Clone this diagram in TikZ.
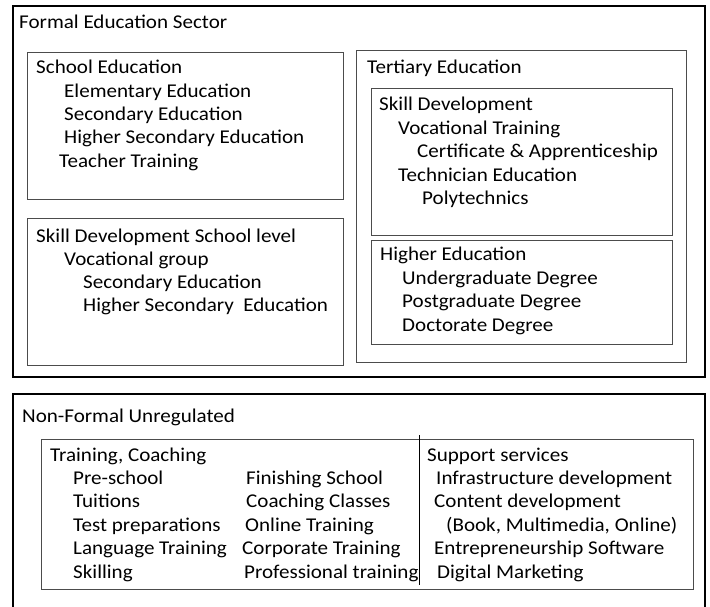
\documentclass[tikz,border=0pt]{standalone}
\usepackage{fontspec}
\setmainfont{Carlito}[FakeStretch=1.08]
\begin{document}
\begin{tikzpicture}[x=1pt,y=-1pt,
  txt/.style={anchor=base west, inner sep=0pt, font=\fontsize{19.5}{23}\selectfont},
  outerbox/.style={draw=black, line width=2.6pt},
  innerbox/.style={draw=black!70, line width=1pt}]
\useasboundingbox (0,0) rectangle (710,606);
\clip (0,0) rectangle (710,606);
\fill[white] (0,0) rectangle (710,606);

% ---------- Formal sector ----------
\draw[outerbox] (13,6) rectangle (705,377);
\draw[innerbox] (27,52) rectangle (343,199);
\draw[innerbox] (27,218) rectangle (343,365);
\draw[innerbox] (356,50) rectangle (686,362);
\draw[innerbox] (371,88) rectangle (672,235);
\draw[innerbox] (371,240) rectangle (672,344);

\node[txt] (fes) at (19,28) {Formal Education Sector};

\node[txt] (se)  at (36,73)  {School Education};
\node[txt] (se1) at (64,97)  {Elementary Education};
\node[txt] (se2) at (64,120) {Secondary Education};
\node[txt] (se3) at (64,143) {Higher Secondary Education};
\node[txt] (se4) at (59,167) {Teacher Training};

\node[txt] (sd)  at (36,242) {Skill Development School level};
\node[txt] (sd1) at (64,265) {Vocational group};
\node[txt] (sd2) at (83,288) {Secondary Education};
\node[txt] (sd3) at (83,311) {Higher Secondary\ \ Education};

\node[txt] (te)  at (367,73)  {Tertiary Education};
\node[txt] (sk)  at (379,110) {Skill Development};
\node[txt] (sk1) at (398,134) {Vocational Training};
\node[txt] (sk2) at (417,157) {Certificate \& Apprenticeship};
\node[txt] (sk3) at (398,181) {Technician Education};
\node[txt] (sk4) at (422,204) {Polytechnics};
\node[txt] (he)  at (380,260) {Higher Education};
\node[txt] (he1) at (402,284) {Undergraduate Degree};
\node[txt] (he2) at (402,307) {Postgraduate Degree};
\node[txt] (he3) at (402,331) {Doctorate Degree};

% ---------- Non-formal ----------
\draw[outerbox] (13,394) rectangle (705,620);
\draw[innerbox] (41,439) rectangle (693,589);
\coordinate (divtop) at (419,435);
\coordinate (divbot) at (419,585);
\draw[black, line width=0.9pt] (divtop) -- (divbot);

\node[txt] (nf) at (22,422) {Non-Formal Unregulated};
\node[txt] (tc) at (50,461) {Training, Coaching};
\node[txt] (a1) at (73,484) {Pre-school};
\node[txt] (a2) at (73,507) {Tuitions};
\node[txt] (a3) at (73,531) {Test preparations};
\node[txt] (a4) at (73,554) {Language Training};
\node[txt] (a5) at (73,578) {Skilling};
\node[txt] (b1) at (246,484) {Finishing School};
\node[txt] (b2) at (246,507) {Coaching Classes};
\node[txt] (b3) at (245,531) {Online Training};
\node[txt] (b4) at (242,554) {Corporate Training};
\node[txt] (b5) at (244,578) {Professional training};
\node[txt] (ss) at (427,461) {Support services};
\node[txt] (c1) at (436,484) {Infrastructure development};
\node[txt] (c2) at (434,507) {Content development};
\node[txt] (c3) at (446,531) {(Book, Multimedia, Online)};
\node[txt] (c4) at (434,554) {Entrepreneurship Software};
\node[txt] (c5) at (437,578) {Digital Marketing};
\end{tikzpicture}
\end{document}
